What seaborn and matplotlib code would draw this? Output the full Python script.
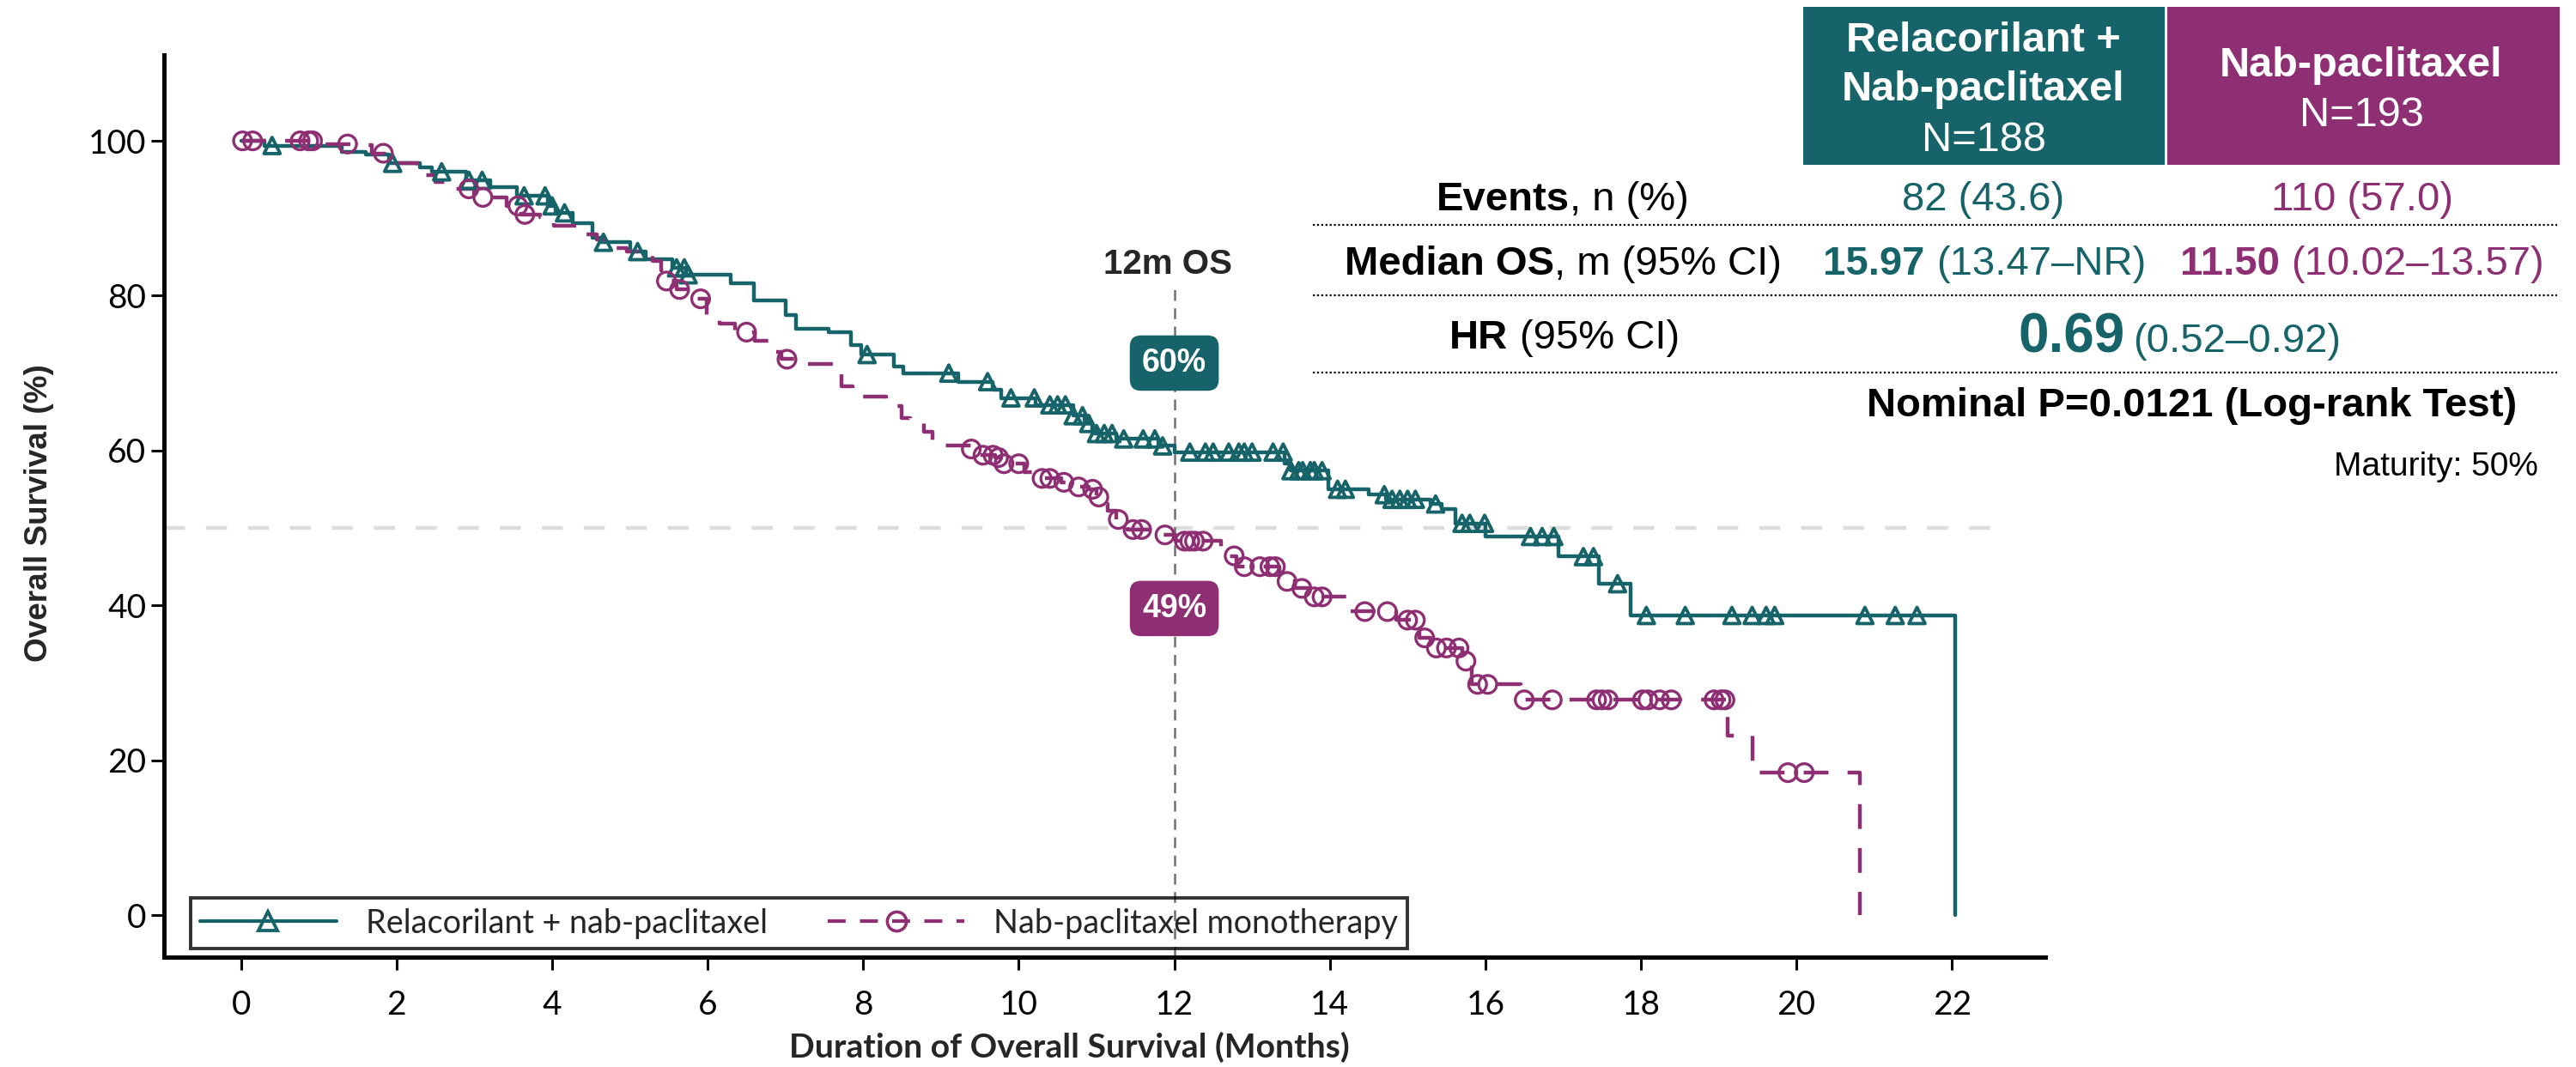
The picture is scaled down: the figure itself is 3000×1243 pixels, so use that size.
import numpy as np
import pandas as pd
import matplotlib
matplotlib.use("Agg")
import matplotlib.pyplot as plt
from matplotlib.lines import Line2D
from matplotlib.patches import Rectangle
import seaborn as sns

# ------------------------------------------------------------------ data
month_ticks = list(range(0, 23, 2))
surv_ticks = [0, 20, 40, 60, 80, 100]
arm_labels = ["Relacorilant + nab-paclitaxel", "Nab-paclitaxel monotherapy"]

# Relacorilant + nab-paclitaxel: step times (months) and survival (%) after each step
rel_t = [0, 0.3, 1.3, 1.6, 1.9, 2.3, 2.45, 2.9, 3.2, 3.55, 3.95, 4.05, 4.27, 4.52, 4.62,
         5.0, 5.2, 5.55, 5.72, 6.3, 6.6, 7.0, 7.14, 7.55, 7.84, 7.97, 8.4, 8.52, 9.22,
         9.66, 9.78, 10.22, 10.7, 10.85, 10.95, 11.25, 11.8, 12.0, 13.42, 13.5, 13.98,
         14.5, 14.72, 15.3, 15.44, 15.62, 16.0, 16.94, 17.46, 17.87, 22.04]
rel_s = [100, 99.4, 98.6, 98.2, 97.1, 96.6, 96.0, 94.9, 94.0, 92.9, 91.6, 90.7, 89.4, 87.5,
         86.9, 85.7, 84.7, 83.6, 82.7, 81.6, 79.4, 77.5, 75.7, 75.3, 73.6, 72.4, 70.9, 70.0,
         68.9, 67.9, 66.8, 65.9, 64.5, 63.5, 62.2, 61.5, 60.6, 59.8, 58.3, 57.4, 55.0, 54.3,
         53.7, 53.1, 52.4, 50.6, 48.9, 46.3, 42.8, 38.7, 0]
rel_cens = [0.4, 1.95, 2.58, 2.93, 3.1, 3.64, 3.91, 4.0, 4.16, 4.66, 5.1, 5.6, 5.7, 5.75,
            8.05, 9.1, 9.6, 9.9, 10.2, 10.4, 10.5, 10.6, 10.7, 10.82, 10.9, 11.0, 11.1,
            11.2, 11.35, 11.6, 11.75, 11.85, 12.2, 12.4, 12.5, 12.7, 12.83, 12.9, 13.0,
            13.27, 13.4, 13.5, 13.6, 13.65, 13.75, 13.8, 13.9, 14.1, 14.2, 14.7, 14.8,
            14.9, 15.0, 15.1, 15.36, 15.7, 15.8, 15.99, 16.58, 16.73, 16.88, 17.26, 17.39,
            17.7, 18.07, 18.57, 19.17, 19.43, 19.61, 19.72, 20.88, 21.27, 21.55]

# Nab-paclitaxel monotherapy
nab_t = [0, 0.95, 1.45, 1.68, 1.85, 1.98, 2.27, 2.38, 2.5, 2.67, 3.0, 3.41, 3.6, 3.85,
         4.02, 4.38, 4.57, 4.81, 4.96, 5.1, 5.29, 5.4, 5.45, 5.6, 5.8, 5.99, 6.15, 6.35,
         6.61, 6.83, 6.95, 7.2, 7.64, 7.72, 7.86, 8.3, 8.49, 8.6, 8.78, 8.89, 9.39, 9.5,
         9.7, 9.8, 10.07, 10.25, 10.55, 10.75, 10.9, 11.0, 11.05, 11.14, 11.25, 11.4,
         11.8, 12.02, 12.6, 12.8, 13.35, 13.45, 13.55, 13.75, 14.26, 14.85, 15.15, 15.3,
         15.7, 15.83, 16.45, 19.12, 19.43, 20.82]
nab_s = [100, 99.6, 99.5, 98.4, 97.9, 97.1, 96.5, 95.6, 94.7, 93.8, 92.7, 91.6, 90.5, 90.1,
         89.0, 87.9, 87.3, 86.2, 85.7, 85.1, 84.5, 83.3, 81.9, 80.8, 79.6, 77.5, 76.4, 75.3,
         74.2, 72.7, 71.8, 71.2, 70.1, 68.3, 67.0, 65.7, 64.2, 63.5, 62.4, 60.7, 60.2, 59.4,
         59.1, 58.3, 57.2, 56.4, 55.9, 55.3, 55.0, 54.0, 53.1, 52.2, 51.1, 49.8, 49.1, 48.3,
         46.4, 45.0, 44.2, 43.1, 42.2, 41.1, 39.2, 38.1, 35.8, 34.5, 32.8, 29.8, 27.8, 23.2,
         18.4, 0]
nab_cens = [0.02, 0.15, 0.76, 0.87, 0.92, 1.37, 1.83, 2.93, 3.11, 3.56, 3.65, 5.47, 5.64,
            5.91, 6.5, 7.02, 9.39, 9.54, 9.67, 9.74, 9.81, 10.0, 10.3, 10.4, 10.58, 10.77,
            10.95, 11.03, 11.28, 11.47, 11.58, 11.88, 12.13, 12.2, 12.26, 12.37, 12.77,
            12.9, 13.1, 13.23, 13.3, 13.45, 13.64, 13.8, 13.9, 14.45, 14.74, 15.0, 15.1,
            15.22, 15.37, 15.5, 15.66, 15.75, 15.9, 16.03, 16.5, 16.86, 17.43, 17.5, 17.58,
            18.02, 18.09, 18.24, 18.39, 18.94, 19.03, 19.08, 19.89, 20.1]

landmark_month = 12
landmark_labels = ["60%", "49%"]
landmark_label_y = [71.3, 39.6]
median_ref = 50

header_rel = ["Relacorilant +", "Nab-paclitaxel", "N=188"]
header_nab = ["Nab-paclitaxel", "N=193"]
events_vals = ["82 (43.6)", "110 (57.0)"]
median_vals = [("15.97", "(13.47\u2013NR)"), ("11.50", "(10.02\u201313.57)")]
hr_vals = ("0.69", "(0.52\u20130.92)")
pval_text = "Nominal P=0.0121 (Log-rank Test)"
maturity_text = "Maturity: 50%"

# ------------------------------------------------------------------ style
TEAL = "#17636A"
MAGENTA = "#8E2E73"
sns.set_style("ticks")
plt.rcParams["font.family"] = ["Lato", "DejaVu Sans"]
ARIAL = ["Liberation Sans", "DejaVu Sans"]
LATO = ["Lato", "DejaVu Sans"]

W, H, DPI = 3000, 1243, 200
fig = plt.figure(figsize=(W / DPI, H / DPI), dpi=DPI)


def fx(px):
    return px / W


def fy(py):
    return 1 - py / H


ax = fig.add_axes([fx(191), fy(1115), fx(2382) - fx(191), fy(64) - fy(1115)])

rel_df = pd.DataFrame({"month": rel_t, "surv": rel_s})
nab_df = pd.DataFrame({"month": nab_t, "surv": nab_s})


def surv_at(tt, ss, c):
    tt = np.asarray(tt, float)
    ss = np.asarray(ss, float)
    idx = np.searchsorted(tt, np.asarray(c, float), side="right") - 1
    return ss[idx]


# reference lines
ax.hlines(median_ref, -0.99, 22.7, colors="#DCDCDC", lw=1.6,
          linestyles=(0, (5.5, 5.5)), zorder=1)
ax.vlines(landmark_month, -5.43, 81.3, colors="#707070", lw=0.9,
          linestyles=(0, (5, 3.5)), zorder=2)

sns.lineplot(data=rel_df, x="month", y="surv", drawstyle="steps-post", color=TEAL,
             linewidth=1.6, estimator=None, sort=False, ax=ax, zorder=3)
sns.lineplot(data=nab_df, x="month", y="surv", drawstyle="steps-post", color=MAGENTA,
             linewidth=1.6, linestyle=(0, (6.5, 5)), estimator=None, sort=False, ax=ax,
             zorder=3)
sns.scatterplot(x=rel_cens, y=surv_at(rel_t, rel_s, rel_cens), marker="^", s=46,
                color=TEAL, facecolor="none", edgecolor=TEAL, linewidth=1.4, ax=ax,
                zorder=4)
sns.scatterplot(x=nab_cens, y=surv_at(nab_t, nab_s, nab_cens), marker="o", s=56,
                color=MAGENTA, facecolor="none", edgecolor=MAGENTA, linewidth=1.2,
                ax=ax, zorder=4)

ax.set_xlim(-0.99, 23.2)
ax.set_ylim(-5.43, 111.1)
ax.set_xticks(month_ticks)
ax.set_yticks(surv_ticks)
ax.set_xlabel("")
ax.set_ylabel("")
sns.despine(ax=ax)
for sp in ["left", "bottom"]:
    ax.spines[sp].set_linewidth(1.8)
    ax.spines[sp].set_color("black")
ax.tick_params(axis="both", direction="out", length=5.5, width=1.1, labelsize=14,
               color="black", labelcolor="black")
ax.tick_params(axis="y", pad=2)
ax.tick_params(axis="x", pad=8)
for lab in ax.get_xticklabels() + ax.get_yticklabels():
    lab.set_fontfamily(LATO)

# landmark annotations
ax.text(11.92, 84.0, "12m OS", ha="center", va="center", weight="bold", size=14.5,
        family=ARIAL, zorder=6)
for lbl, yy, col in zip(landmark_labels, landmark_label_y, [TEAL, MAGENTA]):
    ax.text(landmark_month, yy, lbl, ha="center", va="center", color="white",
            weight="bold", size=13.5, family=ARIAL, zorder=6,
            bbox=dict(boxstyle="round,pad=0.38,rounding_size=0.35", fc=col, ec="none"))

# legend
handles = [
    Line2D([], [], color=TEAL, lw=1.5, marker="^", ms=8, mfc="none", mec=TEAL, mew=1.4),
    Line2D([], [], color=MAGENTA, lw=1.5, ls=(0, (5, 4)), marker="o", ms=8, mfc="none",
           mec=MAGENTA, mew=1.3),
]
leg = ax.legend(handles, arm_labels, loc="lower left",
                bbox_to_anchor=(0.014, 0.0095, 0.647, 0.05), mode="expand", ncol=2,
                frameon=True, fancybox=False, edgecolor="black", facecolor="none",
                handlelength=4.2, handletextpad=0.9, borderpad=0.3, borderaxespad=0,
                prop={"family": LATO, "size": 13.6})
leg.get_frame().set_linewidth(1.4)

# axis labels
fig.text(fx(1245), fy(1220), "Duration of Overall Survival (Months)", ha="center",
         va="center", weight="bold", size=14.1, family=LATO)
fig.text(fx(46), fy(598), "Overall Survival (%)", rotation=90, ha="center", va="center",
         weight="bold", size=13.3, family=ARIAL)

# ------------------------------------------------------------------ table
renderer = fig.canvas.get_renderer()


def text_runs(xc, base_py, parts, ha="center"):
    objs = []
    for s, kw, gap in parts:
        t = fig.text(0, fy(base_py), s, ha="left", va="baseline", family=ARIAL, **kw)
        objs.append((t, gap, kw.get("size", 17)))
    widths = [o[0].get_window_extent(renderer).width for o in objs]
    gaps = [o[1] * o[2] * DPI / 72 for o in objs]
    total = sum(widths) + sum(gaps[1:])
    x = xc - total / 2 if ha == "center" else xc - total
    for i, ((t, g, sz), w, gp) in enumerate(zip(objs, widths, gaps)):
        if i > 0:
            x += gp
        t.set_x(x / W)
        x += w


SZ = 17
B = dict(size=SZ, weight="bold")
R = dict(size=SZ)
HB = dict(size=17.5, weight="bold")
HR_ = dict(size=17.5)

fig.add_artist(Rectangle((fx(2100), fy(192)), fx(2521) - fx(2100), fy(8) - fy(192),
                         transform=fig.transFigure, fc=TEAL, ec="none"))
fig.add_artist(Rectangle((fx(2524), fy(192)), fx(2981) - fx(2524), fy(8) - fy(192),
                         transform=fig.transFigure, fc=MAGENTA, ec="none"))
text_runs(2310, 60, [(header_rel[0], dict(HB, color="white"), 0)])
text_runs(2310, 117, [(header_rel[1], dict(HB, color="white"), 0)])
text_runs(2310, 176, [(header_rel[2], dict(HR_, color="white"), 0)])
text_runs(2750, 89, [(header_nab[0], dict(HB, color="white"), 0)])
text_runs(2750, 147, [(header_nab[1], dict(HR_, color="white"), 0)])

# row labels
text_runs(1820, 245, [("Events", dict(B, color="black"), 0),
                      (", n (%)", dict(R, color="black"), 0)])
text_runs(1820, 320, [("Median OS", dict(B, color="black"), 0),
                      (", m (95% CI)", dict(R, color="black"), 0)])
text_runs(1822, 406, [("HR", dict(B, color="black"), 0),
                      ("(95% CI)", dict(R, color="black"), 0.28)])

# values
text_runs(2310, 245, [(events_vals[0], dict(R, color=TEAL), 0)])
text_runs(2751, 245, [(events_vals[1], dict(R, color=MAGENTA), 0)])
text_runs(2311, 320, [(median_vals[0][0], dict(B, color=TEAL), 0),
                      (median_vals[0][1], dict(R, color=TEAL), 0.28)])
text_runs(2751, 320, [(median_vals[1][0], dict(B, color=MAGENTA), 0),
                      (median_vals[1][1], dict(R, color=MAGENTA), 0.28)])
text_runs(2538, 410, [(hr_vals[0], dict(size=23, weight="bold", color=TEAL), 0),
                      (hr_vals[1], dict(R, color=TEAL), 0.2)])
text_runs(2553, 485, [(pval_text, dict(B, color="black"), 0)])
text_runs(2956, 554, [(maturity_text, dict(size=14, color="black"), 0)], ha="right")

for py in [262, 344, 434]:
    fig.add_artist(Line2D([fx(1529), fx(2978)], [fy(py), fy(py)],
                          transform=fig.transFigure, color="black", lw=0.8,
                          linestyle=(0, (1, 1.2))))

fig.savefig("out.png", dpi=DPI, facecolor="white")
